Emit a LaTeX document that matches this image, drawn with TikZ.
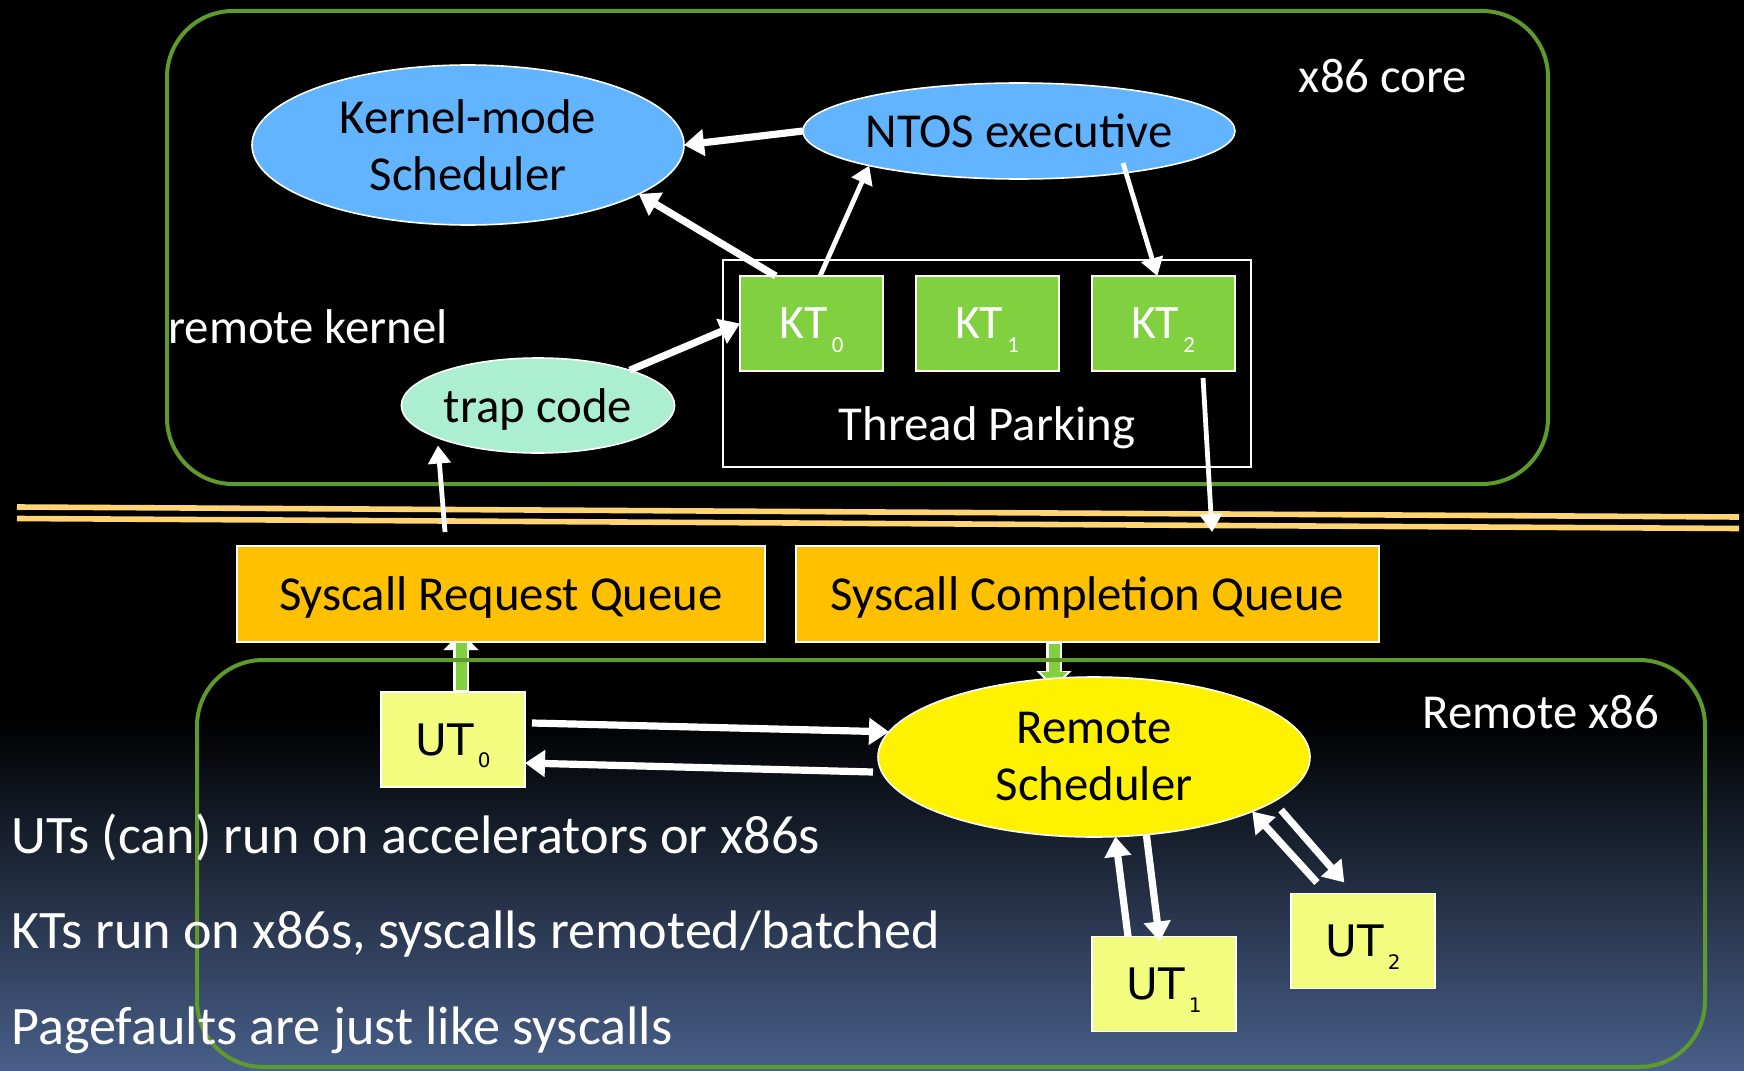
\documentclass[tikz,border=0pt]{standalone}
\usepackage{fontspec}
\setmainfont{Carlito}
\newfontfamily\utfamily{DejaVu Sans}
\usetikzlibrary{arrows.meta,shapes.geometric,calc}
\pgfdeclarelayer{backdrop}
\pgfdeclarelayer{underlay}
\pgfsetlayers{backdrop,underlay,main}

\definecolor{framegreen}{RGB}{94,155,42}
\definecolor{ktgreen}{RGB}{128,208,64}
\definecolor{skyblue}{RGB}{98,180,255}
\definecolor{mint}{RGB}{172,238,210}
\definecolor{queueorange}{RGB}{255,192,0}
\definecolor{utyellow}{RGB}{242,253,128}
\definecolor{railorange}{RGB}{255,212,115}
\definecolor{nightblue}{RGB}{72,95,137}

\newcommand\bodysize{\fontsize{24.4}{28.5}\selectfont}
\newcommand\notesize{\fontsize{27.1}{32}\selectfont}
\newcommand\ktsub[1]{\kern2pt\raisebox{-7pt}{\fontsize{11.5}{11.5}\selectfont #1}}
\newcommand\utsub[1]{\kern2pt\raisebox{-6.3pt}{\fontsize{10}{10}\selectfont #1}}

\begin{document}
\begin{tikzpicture}[x=0.5pt, y=-0.5pt,
  blob/.style={ellipse, draw=white, line width=0.8pt, inner xsep=-12pt, inner ysep=0pt,
    outer sep=0pt, font=\bodysize, align=center, text=black},
  ktbox/.style={rectangle, fill=ktgreen, draw=white, line width=1pt, minimum width=71.5pt,
    minimum height=47.5pt, inner sep=0pt, outer sep=0pt, text=white,
    font=\fontsize{24}{24}\selectfont, text depth=0pt},
  queue/.style={rectangle, fill=queueorange, draw=white, line width=1pt, minimum height=48pt,
    inner sep=0pt, outer sep=0pt, font=\bodysize, text=black, text depth=0pt},
  utbox/.style={rectangle, fill=utyellow, draw=white, line width=0.8pt, minimum width=72pt,
    minimum height=47.5pt, inner sep=0pt, outer sep=0pt,
    font=\utfamily\fontsize{21.7}{21.7}\selectfont, text=black, text depth=0pt},
  caption/.style={text=white, font=\bodysize, inner sep=0pt},
  note/.style={text=white, font=\notesize, inner sep=0pt, anchor=base west},
  flow/.style={white, line width=3.6pt, -{Triangle[length=10pt,width=13pt]}},
  thinflow/.style={white, line width=2.4pt, -{Triangle[length=9pt,width=11pt]}},
  feedrim/.style={white, line width=8pt, -{Triangle[length=9pt,width=17pt]}},
  feedcore/.style={ktgreen, line width=5.5pt, -{Triangle[length=7pt,width=13pt]}},
  frame/.style={framegreen, line width=2pt, rounded corners=33pt}]

\useasboundingbox (0,0) rectangle (1744,1070);

% backdrop: black fading into night blue, and the two orange rails
\begin{pgfonlayer}{backdrop}
  \fill[black] (0,0) rectangle (1744,1070);
  \shade[top color=black, bottom color=nightblue] (0,720) rectangle (1744,1070);
  \draw[railorange, line width=2.8pt] (17,507) -- (1739,517);
  \draw[railorange, line width=2.8pt] (17,518.5) -- (1739,528.5);
\end{pgfonlayer}

% the two machine frames
\draw[frame] (167,11) rectangle (1548,484);
\draw[frame] (197,660) rectangle (1705,1067);

% kernel side
\node[blob, fill=skyblue, minimum width=216pt, minimum height=80pt] (kms) at (468,145) {Kernel-mode\\Scheduler};
\node[blob, fill=skyblue, minimum width=216pt, minimum height=48pt] (ntos) at (1019,131) {NTOS executive};
\node[rectangle, draw=white, line width=1pt, minimum width=264pt, minimum height=103.5pt,
      inner sep=0pt, outer sep=0pt] (park) at (987,363.5) {};
\node[caption, anchor=base] (parktitle) at (987,440) {Thread Parking};
\node[ktbox] (kt0) at (811.5,323.5) {KT\ktsub{0}};
\node[ktbox] (kt1) at (987,323.5) {KT\ktsub{1}};
\node[ktbox] (kt2) at (1163,323.5) {KT\ktsub{2}};
\node[blob, fill=mint, minimum width=136.6pt, minimum height=47.5pt, text depth=0pt] (trap) at (538,405.5) {trap code};

% queues
\node[queue, minimum width=264pt] (srq) at (501,594) {Syscall Request Queue};
\node[queue, minimum width=291.5pt] (scq) at (1087.5,594) {Syscall Completion Queue};

% user side
\node[utbox] (ut0) at (453,739.5) {UT\utsub{0}};
\node[blob, fill=yellow, minimum width=216pt, minimum height=80pt] (rs) at (1094,757) {Remote\\Scheduler};
\node[utbox] (ut1) at (1164,984) {UT\utsub{1}};
\node[utbox] (ut2) at (1363,941) {UT\utsub{2}};

% green feeds into and out of the queues
\begin{pgfonlayer}{underlay}
  \draw[feedrim]  ($(ut0.north)+(8,0)$) -- ($(srq.south west)+(224,-10)$);
  \draw[feedcore] ($(ut0.north)+(8,-2)$) -- ($(srq.south west)+(224,-13)$);
  \draw[feedrim]  ($(scq.south west)+(258,0)$) -- ($(rs.north)+(-40,12)$);
  \draw[feedcore] ($(scq.south west)+(258,2)$) -- ($(rs.north)+(-40,9)$);
\end{pgfonlayer}

% kernel-side flows
\draw[flow] (ntos.west) -- (kms.east);
\draw[flow] ($(kt0.north west)!0.25!(kt0.north east)$) -- (kms.-16);
\draw[thinflow] ($(kt0.north west)!0.56!(kt0.north east)$) -- (ntos.-167);
\draw[thinflow] ($(ntos.center)+(104,32)$) -- ($(kt2.north west)!0.46!(kt2.north east)$);
\draw[flow] (trap.21) -- (kt0.west);
\draw[thinflow] ($(kt2.south west)!0.78!(kt2.south east)+(0,7)$) -- ($(scq.north west)+(416,-14)$);
\draw[thinflow] ($(srq.north west)+(208,-14)$) -- ($(trap.center)+(-100,40)$);

% user-side flows
\draw[flow] ($(ut0.north east)+(7,31)$) -- (rs.173);
\draw[flow] ($(rs.center)+(-221,15)$) -- ($(ut0.east)+(0,23.5)$);
\draw[flow] ($(ut1.north west)!0.25!(ut1.north east)$) -- (rs.-75);
\draw[flow] (rs.-56) -- ($(ut1.north west)!0.47!(ut1.north east)+(0,5)$);
\draw[flow] ($(ut2.north west)!0.18!(ut2.north east)+(0,-11)$) -- (rs.-19);
\draw[flow] ($(rs.center)+(187,53)$) -- ($(ut2.north west)!0.37!(ut2.north east)+(0,-11)$);

% captions
\node[caption, anchor=base] (corename) at (1383,93) {x86 core};
\node[caption, anchor=base] (remotename) at (1541,728) {Remote x86};
\node[caption, anchor=base west] (kernelname) at (168,343) {remote kernel};
\node[note] (note1) at (11,853) {UTs (can) run on accelerators or x86s};
\node[note] (note2) at (11,948) {KTs run on x86s, syscalls remoted/batched};
\node[note] (note3) at (11,1044) {Pagefaults are just like syscalls};
\end{tikzpicture}
\end{document}
